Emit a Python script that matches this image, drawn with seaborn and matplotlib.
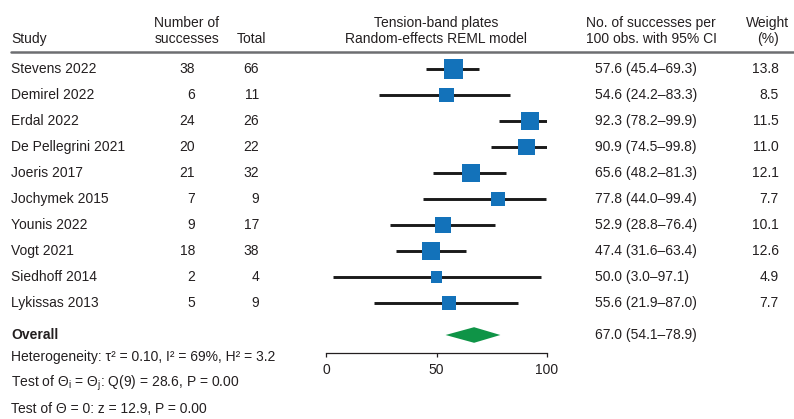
import matplotlib
matplotlib.use("Agg")
import matplotlib.pyplot as plt
from matplotlib import transforms
from matplotlib.lines import Line2D
from matplotlib.patches import Polygon
import numpy as np
import pandas as pd
import seaborn as sns

# data
studies = ["Stevens 2022", "Demirel 2022", "Erdal 2022", "De Pellegrini 2021", "Joeris 2017",
           "Jochymek 2015", "Younis 2022", "Vogt 2021", "Siedhoff 2014", "Lykissas 2013"]
successes = [38, 6, 24, 20, 21, 7, 9, 18, 2, 5]
totals = [66, 11, 26, 22, 32, 9, 17, 38, 4, 9]
estimate = [57.6, 54.6, 92.3, 90.9, 65.6, 77.8, 52.9, 47.4, 50.0, 55.6]
ci_low = [45.4, 24.2, 78.2, 74.5, 48.2, 44.0, 28.8, 31.6, 3.0, 21.9]
ci_high = [69.3, 83.3, 99.9, 99.8, 81.3, 99.4, 76.4, 63.4, 97.1, 87.0]
weights = [13.8, 8.5, 11.5, 11.0, 12.1, 7.7, 10.1, 12.6, 4.9, 7.7]
overall_est, overall_low, overall_high = 67.0, 54.1, 78.9
x_ticks = [0, 50, 100]

TXT = "#231f20"
BLUE = "#1372ba"
GREEN = "#0f9447"

sns.set_style("white")
plt.rcParams["font.family"] = ["Liberation Sans", "DejaVu Sans"]
plt.rcParams["mathtext.fontset"] = "custom"
plt.rcParams["mathtext.rm"] = "Liberation Sans"
plt.rcParams["mathtext.it"] = "Liberation Sans"
plt.rcParams["font.size"] = 10

W, H = 794, 419
fig = plt.figure(figsize=(W / 100, H / 100), dpi=100)


def fx(px):
    return px / W


def fy(py):
    return 1 - py / H


# forest axes: 0 at x=326px, 100 at x=547px, header line at y=52, axis at y=353
row_h = 26
row0 = 69
ax = fig.add_axes([fx(326), fy(353), fx(547) - fx(326), fy(52) - fy(353)])
ax.set_xlim(0, 100)
ax.set_ylim((353 - row0) / row_h, -(row0 - 52) / row_h)

df = pd.DataFrame({"study": studies, "est": estimate, "lo": ci_low, "hi": ci_high,
                   "w": weights, "row": np.arange(len(studies))})
overall_row = len(studies) - 1 + (335 - 303) / row_h

ax.hlines(df["row"], df["lo"], df["hi"], color="#1a1a1a", lw=2.1, zorder=1)
k = 13.6
sns.scatterplot(data=df, x="est", y="row", size="w", sizes=(k * min(weights), k * max(weights)),
                size_norm=(min(weights), max(weights)), marker="s", color=BLUE,
                linewidth=0, legend=False, ax=ax, zorder=2)
dh = 0.3
ax.add_patch(Polygon([(overall_low, overall_row), (overall_est, overall_row - dh),
                      (overall_high, overall_row), (overall_est, overall_row + dh)],
                     closed=True, color=GREEN, lw=0))

for s in ["top", "left", "right"]:
    ax.spines[s].set_visible(False)
ax.spines["bottom"].set_color(TXT)
ax.spines["bottom"].set_linewidth(0.9)
ax.set_xticks(x_ticks)
ax.set_yticks([])
ax.tick_params(axis="x", direction="out", length=3, width=0.9, color=TXT,
               labelsize=10, labelcolor=TXT, pad=4, bottom=True)
ax.set_xlabel("")
ax.set_ylabel("")
ax.patch.set_alpha(0)

# table text
tr = transforms.blended_transform_factory(fig.transFigure, ax.transData)
for i in range(len(studies)):
    ax.text(fx(11), i, studies[i], transform=tr, ha="left", va="center", color=TXT, clip_on=False)
    ax.text(fx(195), i, str(successes[i]), transform=tr, ha="right", va="center", color=TXT, clip_on=False)
    ax.text(fx(259), i, str(totals[i]), transform=tr, ha="right", va="center", color=TXT, clip_on=False)
    ax.text(fx(595), i, f"{estimate[i]:.1f} ({ci_low[i]:.1f}\u2013{ci_high[i]:.1f})", transform=tr,
            ha="left", va="center", color=TXT, clip_on=False)
    ax.text(fx(779), i, f"{weights[i]:.1f}", transform=tr, ha="right", va="center", color=TXT, clip_on=False)

ax.text(fx(11), overall_row, "Overall", transform=tr, ha="left", va="center", color=TXT,
        fontweight="bold", clip_on=False)
ax.text(fx(595), overall_row, f"{overall_est:.1f} ({overall_low:.1f}\u2013{overall_high:.1f})",
        transform=tr, ha="left", va="center", color=TXT, clip_on=False)

# headers
hdr = dict(color=TXT, va="center", fontsize=10, linespacing=1.15)
fig.text(fx(11), fy(39), "Study", ha="left", **hdr)
fig.text(fx(187), fy(31), "Number of\nsuccesses", ha="center", **hdr)
fig.text(fx(237), fy(39), "Total", ha="left", **hdr)
fig.text(fx(436), fy(31), "Tension-band plates\nRandom-effects REML model", ha="center", **hdr)
fig.text(fx(651), fy(31), "No. of successes per\n100 obs. with 95% CI", ha="center", **hdr)
fig.text(fx(768), fy(31), "Weight\n(%)", ha="center", **hdr)
fig.add_artist(Line2D([fx(11), fx(794)], [fy(52), fy(52)], color="#6d6e71", lw=1.8))

# footer stats
fig.text(fx(11), fy(357), "Heterogeneity: \u03c4\u00b2 = 0.10, I\u00b2 = 69%, H\u00b2 = 3.2",
         ha="left", va="center", color=TXT)
fig.text(fx(11), fy(383), r"Test of $\Theta_{\mathrm{i}}$ = $\Theta_{\mathrm{j}}$: Q(9) = 28.6, P = 0.00",
         ha="left", va="center", color=TXT)
fig.text(fx(11), fy(409), "Test of \u0398 = 0: z = 12.9, P = 0.00",
         ha="left", va="center", color=TXT)

fig.savefig("out.png", dpi=100)
